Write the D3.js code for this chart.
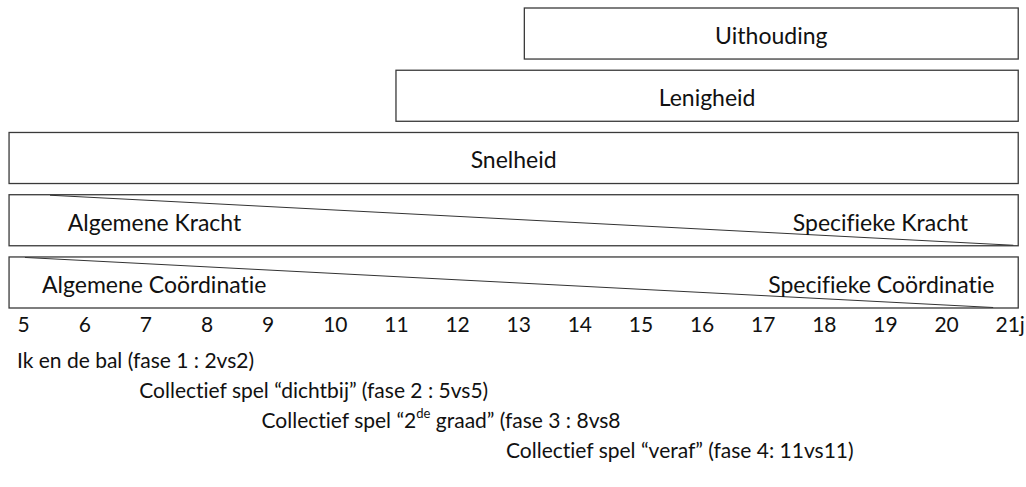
<!DOCTYPE html>
<html>
<head>
<meta charset="utf-8">
<script src="https://cdn.jsdelivr.net/npm/d3@7"></script>
<style>
  html, body { margin: 0; padding: 0; background: #fff; }
  svg { display: block; }
  text { font-family: Lato, "Open Sans", sans-serif; fill: #111; font-variant-ligatures: none; }
</style>
</head>
<body>
<svg id="chart" width="1026" height="487"></svg>
<script>
// ---- data ----
const ages = [5, 6, 7, 8, 9, 10, 11, 12, 13, 14, 15, 16, 17, 18, 19, 20, 21];
const ageLabels = ["5","6","7","8","9","10","11","12","13","14","15","16","17","18","19","20","21j"];

const rowNames = ["Uithouding", "Lenigheid", "Snelheid", "Kracht", "Coördinatie"];
const rowStart = [13.3, 11.2, 4.87, 4.87, 4.87];
const rowEnd   = [21.38, 21.38, 21.38, 21.38, 21.38];
const rowLabels = ["Uithouding", "Lenigheid", "Snelheid", null, null];

// diagonal (transition) rows: general -> specific
const diagRows  = ["Kracht", "Coördinatie"];
const diagFrom  = [5.54, 5.13];
const diagTo    = [21.3, 20.97];
const diagLeft  = ["Algemene Kracht", "Algemene Coördinatie"];
const diagLeftAt  = [5.83, 5.41];
const diagRight = ["Specifieke Kracht", "Specifieke Coördinatie"];
const diagRightAt = [20.56, 20.99];

// phases (start age)
const phaseStart = [5, 7, 9, 13];
const phasePre   = ["Ik en de bal (fase 1 : 2vs2)", "Collectief spel “dichtbij” (fase 2 : 5vs5)", "Collectief spel “2", "Collectief spel “veraf” (fase 4: 11vs11)"];
const phaseSup   = [null, null, "de", null];
const phasePost  = [null, null, " graad” (fase 3 : 8vs8", null];

// ---- scales ----
const svg = d3.select("#chart");
const x = d3.scaleLinear().domain([5, 21]).range([17, 995]);
const y = d3.scaleBand().domain(rowNames).range([8, 308]).paddingInner(0.18).paddingOuter(0);
const phaseY = d3.scalePoint().domain(d3.range(phaseStart.length)).range([359, 449]);

const FS_BOX = 23;
const FS = 21;

// boxes
const boxes = svg.append("g");
rowNames.forEach((r, i) => {
  boxes.append("rect")
    .attr("x", x(rowStart[i]))
    .attr("y", y(r))
    .attr("width", x(rowEnd[i]) - x(rowStart[i]))
    .attr("height", y.bandwidth())
    .attr("fill", "#fff")
    .attr("stroke", "#3a3a3a")
    .attr("stroke-width", 1.3);
  if (rowLabels[i]) {
    boxes.append("text")
      .attr("x", (x(rowStart[i]) + x(rowEnd[i])) / 2)
      .attr("y", y(r) + y.bandwidth() / 2 + 1)
      .attr("text-anchor", "middle")
      .attr("dominant-baseline", "central")
      .attr("font-size", FS_BOX)
      .text(rowLabels[i]);
  }
});

// diagonals
diagRows.forEach((r, i) => {
  boxes.append("line")
    .attr("x1", x(diagFrom[i])).attr("y1", y(r) + 0.5)
    .attr("x2", x(diagTo[i])).attr("y2", y(r) + y.bandwidth() - 0.5)
    .attr("stroke", "#333").attr("stroke-width", 1);
  boxes.append("text")
    .attr("x", x(diagLeftAt[i]))
    .attr("y", y(r) + y.bandwidth() / 2 + 1.5)
    .attr("dominant-baseline", "central")
    .attr("font-size", FS_BOX)
    .text(diagLeft[i]);
  boxes.append("text")
    .attr("x", x(diagRightAt[i]))
    .attr("y", y(r) + y.bandwidth() / 2 + 1.5)
    .attr("text-anchor", "end")
    .attr("dominant-baseline", "central")
    .attr("font-size", FS_BOX)
    .text(diagRight[i]);
});

// age axis
const axis = d3.axisBottom(x).tickValues(ages).tickSize(0).tickFormat((d, i) => ageLabels[i]);
const ax = svg.append("g").attr("transform", "translate(0,317)").call(axis);
ax.select(".domain").remove();
ax.selectAll("text")
  .attr("text-anchor", "start")
  .attr("font-family", "Lato, 'Open Sans', sans-serif")
  .attr("font-size", FS)
  .attr("fill", "#111")
  .attr("dy", "0.71em")
  .attr("y", 0);

// phases
phaseStart.forEach((a, i) => {
  const t = svg.append("text")
    .attr("x", x(a))
    .attr("y", phaseY(i))
    .attr("dominant-baseline", "central")
    .attr("font-size", FS);
  t.append("tspan").text(phasePre[i]);
  if (phaseSup[i]) {
    t.append("tspan").attr("font-size", FS * 0.62).attr("dy", -6).text(phaseSup[i]);
    t.append("tspan").attr("dy", 6).text(phasePost[i]);
  }
});
</script>
</body>
</html>
